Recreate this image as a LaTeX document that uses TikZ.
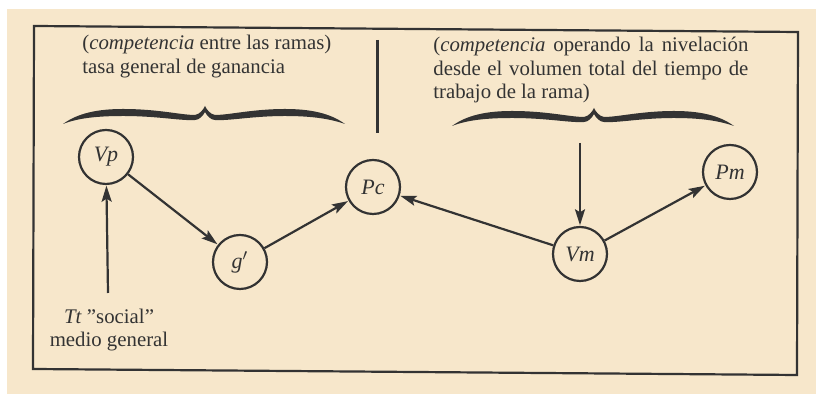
\documentclass[tikz,border=0pt]{standalone}
\usepackage{fontspec}
\setmainfont{Liberation Serif}
\usetikzlibrary{arrows.meta}
\definecolor{paper}{HTML}{F7E7CB}
\definecolor{ink}{HTML}{333333}
\begin{document}
\begin{tikzpicture}[x=0.5pt,y=-0.5pt,
  ink line/.style={draw=ink,line width=1.1pt},
  circ/.style={circle,draw=ink,line width=1.1pt,minimum size=27pt,inner sep=0pt,font=\fontsize{11}{13}\selectfont\itshape,text=ink},
  arr/.style={ink line,-{Stealth[length=8pt,width=5pt,inset=1.5pt]},shorten >=0.3pt},
  txt/.style={inner sep=0pt,text=ink,font=\fontsize{10.4}{11.6}\selectfont},
  bracepic/.pic={
    \fill[ink] (0,1) .. controls (15,-10) and (35,-14) .. (60,-14)
      .. controls (95,-14) and (118,-8) .. (132,-8)
      .. controls (137,-9) and (140,-13) .. (142,-17)
      .. controls (144,-13) and (147,-9) .. (152,-8)
      .. controls (166,-8) and (190,-14) .. (222,-14)
      .. controls (247,-14) and (267,-10) .. (282,1)
      .. controls (265,-5) and (245,-7) .. (222,-7)
      .. controls (190,-7) and (166,-2) .. (152,-3)
      .. controls (148,-3) and (144,-7) .. (142,-11)
      .. controls (140,-7) and (136,-3) .. (132,-3)
      .. controls (118,-2) and (95,-7) .. (60,-7)
      .. controls (35,-7) and (15,-5) .. (0,1) -- cycle;
  }]
\useasboundingbox (0,0) rectangle (816,394);
\fill[white] (0,0) rectangle (816,394);
\fill[paper] (7,9) rectangle (816,394);
% frame
\draw[ink line] (34,26) -- (798,32) -- (797,375) -- (33,369) -- cycle;
% divider
\draw[ink,line width=1.5pt] (377,40) -- (377,133);
% texts
\node[txt,anchor=north west,align=left] (lefttxt) at (82,35)
  {(\textit{competencia} entre las ramas)\\tasa general de ganancia};
\node[txt,anchor=north west,align=left] (righttxt) at (433,37)
  {\makebox[157.5pt][s]{(\textit{competencia} operando la nivelación}\\
   \makebox[157.5pt][s]{desde el volumen total del tiempo de}\\
   trabajo de la rama)};
% braces
\pic at (63,123) {bracepic};
\pic at (452,125) {bracepic};
% nodes
\node[circ] (vp) at (106,157) {Vp};
\node[circ] (g) at (240,262) {g$'$};
\node[circ] (pc) at (373,187) {Pc};
\node[circ] (vm) at (580,254) {Vm};
\node[circ] (pm) at (730,172) {Pm};
\node[txt,align=center] (tt) at (109,330) {\textit{Tt} ''social''\\medio general};
\coordinate (ttTop) at (108,293);
\coordinate (braceR) at (580,143);
% connectors
\draw[arr] (ttTop) -- (vp);
\draw[arr] (vp) -- (g);
\draw[arr] (g) -- (pc);
\draw[arr] (vm) -- (pc);
\draw[arr] (braceR) -- (vm);
\draw[arr] (vm) -- (pm);
\end{tikzpicture}
\end{document}
